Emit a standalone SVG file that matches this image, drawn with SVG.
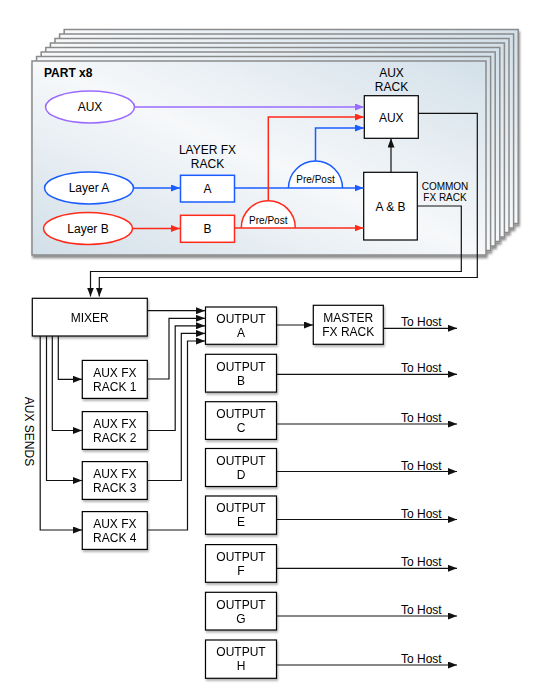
<svg xmlns="http://www.w3.org/2000/svg" width="537" height="695" viewBox="0 0 537 695">
<style>
text{font-family:"Liberation Sans",Arial,sans-serif;font-size:12px;fill:#000}
.c{text-anchor:middle}
.s10{font-size:10px}
.panel{fill:url(#pg);stroke:#8a8a8a;stroke-width:1.5}
.box{fill:#fff;stroke:#000;stroke-width:1.2}
.bbox{fill:#fff;stroke:#1a5cff;stroke-width:1.5}
.rbox{fill:#fff;stroke:#ff2a1a;stroke-width:1.5}
.ln{fill:none;stroke:#111;stroke-width:1.2}
.bl{fill:none;stroke:#1a5cff;stroke-width:1.5}
.rl{fill:none;stroke:#ff2a1a;stroke-width:1.5}
.pl{fill:none;stroke:#9a6bff;stroke-width:1.5}
</style>
<defs>
<linearGradient id="pg" x1="0" y1="1" x2="1" y2="0">
<stop offset="0" stop-color="#d2dfe8"/>
<stop offset="0.5" stop-color="#f6f8fa"/>
<stop offset="1" stop-color="#d3e0e9"/>
</linearGradient>
<filter id="psh" x="-5%" y="-5%" width="112%" height="115%">
<feDropShadow dx="1" dy="2.5" stdDeviation="1.2" flood-color="#000" flood-opacity="0.45"/>
</filter>
<filter id="bsh" x="-10%" y="-10%" width="130%" height="140%">
<feDropShadow dx="1" dy="2" stdDeviation="1.2" flood-color="#000" flood-opacity="0.3"/>
</filter>
<marker id="ak" viewBox="0 0 10 10" refX="10" refY="5" markerWidth="9" markerHeight="7" markerUnits="userSpaceOnUse" orient="auto" preserveAspectRatio="none"><path d="M0,0L10,5L0,10z" fill="#111"/></marker>
<marker id="ab" viewBox="0 0 10 10" refX="10" refY="5" markerWidth="9" markerHeight="7" markerUnits="userSpaceOnUse" orient="auto" preserveAspectRatio="none"><path d="M0,0L10,5L0,10z" fill="#1a5cff"/></marker>
<marker id="ar" viewBox="0 0 10 10" refX="10" refY="5" markerWidth="9" markerHeight="7" markerUnits="userSpaceOnUse" orient="auto" preserveAspectRatio="none"><path d="M0,0L10,5L0,10z" fill="#ff2a1a"/></marker>
<marker id="ap" viewBox="0 0 10 10" refX="10" refY="5" markerWidth="9" markerHeight="7" markerUnits="userSpaceOnUse" orient="auto" preserveAspectRatio="none"><path d="M0,0L10,5L0,10z" fill="#9a6bff"/></marker>
</defs>

<g id="part-stack" filter="url(#psh)">
<rect class="panel" x="64.2" y="29.5" width="454" height="194"/>
<rect class="panel" x="59.6" y="34" width="454" height="194"/>
<rect class="panel" x="55" y="38.5" width="454" height="194"/>
<rect class="panel" x="50.4" y="43" width="454" height="194"/>
<rect class="panel" x="45.8" y="47.5" width="454" height="194"/>
<rect class="panel" x="41.2" y="52" width="454" height="194"/>
<rect class="panel" x="36.6" y="56.5" width="454" height="194"/>
<rect class="panel" x="32" y="61" width="454" height="194"/>
</g>
<text x="44" y="77" style="font-weight:bold">PART x8</text>

<g id="aux-in">
<ellipse cx="90" cy="107" rx="44.5" ry="16" fill="#fff" stroke="#9a6bff" stroke-width="1.5"/>
<text class="c" x="90" y="111.3">AUX</text>
</g>
<g id="layer-a">
<ellipse cx="89" cy="188" rx="44.5" ry="16" fill="#fff" stroke="#1a5cff" stroke-width="1.5"/>
<text class="c" x="89" y="192.3">Layer A</text>
</g>
<g id="layer-b">
<ellipse cx="88" cy="228.5" rx="44.5" ry="16" fill="#fff" stroke="#ff2a1a" stroke-width="1.5"/>
<text class="c" x="88" y="232.8">Layer B</text>
</g>
<g id="layer-fx-rack">
<text class="c" x="207.5" y="154.3">LAYER FX</text>
<text class="c" x="207.5" y="167.8">RACK</text>
</g>
<g id="fx-a">
<rect class="bbox" x="180.5" y="175.3" width="54" height="26.7"/>
<text class="c" x="207.5" y="192.8">A</text>
</g>
<g id="fx-b">
<rect class="rbox" x="180.5" y="215.3" width="54" height="27"/>
<text class="c" x="207.5" y="233">B</text>
</g>
<g id="aux-rack">
<text class="c" x="391.5" y="76.8">AUX</text>
<text class="c" x="391.5" y="91">RACK</text>
<rect class="box" x="364.3" y="95.7" width="54" height="42.6"/>
<text class="c" x="391.3" y="121.6">AUX</text>
</g>
<g id="common-fx-rack">
<rect class="box" x="363.7" y="172.3" width="53.6" height="67.7"/>
<text class="c" x="390.5" y="211">A &amp; B</text>
<text class="c s10" x="445" y="189.5">COMMON</text>
<text class="c s10" x="445" y="201">FX RACK</text>
</g>
<g id="prepost-a">
<path d="M288.5,188A27,27 0 0 1 342.5,188" fill="#fff" stroke="#1a5cff" stroke-width="1.5"/>
<text class="c s10" x="315.5" y="183">Pre/Post</text>
</g>
<g id="prepost-b">
<path d="M241.3,227.7A27,27 0 0 1 295.3,227.7" fill="#fff" stroke="#ff2a1a" stroke-width="1.5"/>
<text class="c s10" x="268.3" y="223.6">Pre/Post</text>
</g>

<g id="mixer" filter="url(#bsh)">
<rect class="box" x="32.3" y="298.3" width="115" height="37.7"/>
<text class="c" x="89.8" y="321.8">MIXER</text>
</g>
<g id="aux-fx-rack-1" filter="url(#bsh)">
<rect class="box" x="82.3" y="360.4" width="65" height="38"/>
<text class="c" x="114.8" y="376.6">AUX FX</text>
<text class="c" x="114.8" y="391">RACK 1</text>
</g>
<g id="aux-fx-rack-2" filter="url(#bsh)">
<rect class="box" x="82.3" y="411.6" width="65" height="37.8"/>
<text class="c" x="114.8" y="427.8">AUX FX</text>
<text class="c" x="114.8" y="442.2">RACK 2</text>
</g>
<g id="aux-fx-rack-3" filter="url(#bsh)">
<rect class="box" x="82.3" y="461.6" width="65" height="37.8"/>
<text class="c" x="114.8" y="477.8">AUX FX</text>
<text class="c" x="114.8" y="492.2">RACK 3</text>
</g>
<g id="aux-fx-rack-4" filter="url(#bsh)">
<rect class="box" x="82.3" y="511.6" width="65" height="37.8"/>
<text class="c" x="114.8" y="527.8">AUX FX</text>
<text class="c" x="114.8" y="542.2">RACK 4</text>
</g>
<text x="0" y="0" class="c" transform="translate(24.5,431.5) rotate(90)">AUX SENDS</text>

<g id="output-a" filter="url(#bsh)">
<rect class="box" x="205.5" y="307" width="71" height="37.3"/>
<text class="c" x="241" y="322.8">OUTPUT</text>
<text class="c" x="241" y="336.8">A</text>
</g>
<g id="output-b" filter="url(#bsh)">
<rect class="box" x="205.5" y="354.3" width="71" height="37.8"/>
<text class="c" x="241" y="370.6">OUTPUT</text>
<text class="c" x="241" y="384.6">B</text>
</g>
<g id="output-c" filter="url(#bsh)">
<rect class="box" x="205.5" y="401.7" width="71" height="37.7"/>
<text class="c" x="241" y="418">OUTPUT</text>
<text class="c" x="241" y="432">C</text>
</g>
<g id="output-d" filter="url(#bsh)">
<rect class="box" x="205.5" y="448.5" width="71" height="38"/>
<text class="c" x="241" y="464.8">OUTPUT</text>
<text class="c" x="241" y="478.8">D</text>
</g>
<g id="output-e" filter="url(#bsh)">
<rect class="box" x="205.5" y="496" width="71" height="38.2"/>
<text class="c" x="241" y="512.3">OUTPUT</text>
<text class="c" x="241" y="526.3">E</text>
</g>
<g id="output-f" filter="url(#bsh)">
<rect class="box" x="205.5" y="544.6" width="71" height="37.7"/>
<text class="c" x="241" y="561">OUTPUT</text>
<text class="c" x="241" y="575">F</text>
</g>
<g id="output-g" filter="url(#bsh)">
<rect class="box" x="205.5" y="592.3" width="71" height="37.7"/>
<text class="c" x="241" y="608.6">OUTPUT</text>
<text class="c" x="241" y="622.6">G</text>
</g>
<g id="output-h" filter="url(#bsh)">
<rect class="box" x="205.5" y="640" width="71" height="38.3"/>
<text class="c" x="241" y="656.3">OUTPUT</text>
<text class="c" x="241" y="670.3">H</text>
</g>
<g id="master-fx-rack" filter="url(#bsh)">
<rect class="box" x="313.3" y="305.3" width="70" height="39"/>
<text class="c" x="348.3" y="322">MASTER</text>
<text class="c" x="348.3" y="336">FX RACK</text>
</g>

<g id="connectors">
<path class="pl" d="M134.5,107H364" marker-end="url(#ap)"/>
<path class="bl" d="M133.5,188H180" marker-end="url(#ab)"/>
<path class="rl" d="M132.5,228.5H180" marker-end="url(#ar)"/>
<path class="bl" d="M234.5,188H363.5" marker-end="url(#ab)"/>
<path class="rl" d="M234.5,228H363.5" marker-end="url(#ar)"/>
<path class="bl" d="M315.5,161V128H364" marker-end="url(#ab)"/>
<path class="rl" d="M268.3,200.7V117H364" marker-end="url(#ar)"/>
<path class="ln" d="M391,172.3V138.5" marker-end="url(#ak)" stroke="#333"/>
<path class="ln" d="M417.3,206H461.3V271.5H90.5V296.5" marker-end="url(#ak)"/>
<path class="ln" d="M418.3,113.3H477.3V277.5H99.3V296.5" marker-end="url(#ak)"/>
<path class="ln" d="M147.3,310.7H205" marker-end="url(#ak)"/>
<path class="ln" d="M147.3,379H169V318.3H205" marker-end="url(#ak)"/>
<path class="ln" d="M147.3,430.5H175.2V325.8H205" marker-end="url(#ak)"/>
<path class="ln" d="M147.3,480.5H181.3V333.4H205" marker-end="url(#ak)"/>
<path class="ln" d="M147.3,530H187.5V341H205" marker-end="url(#ak)"/>
<path class="ln" d="M58.3,336V379.3H82" marker-end="url(#ak)"/>
<path class="ln" d="M52.3,336V430.5H82" marker-end="url(#ak)"/>
<path class="ln" d="M46.5,336V480.5H82" marker-end="url(#ak)"/>
<path class="ln" d="M40.2,336V530H82" marker-end="url(#ak)"/>
<path class="ln" d="M276.5,325H313" marker-end="url(#ak)"/>
<path class="ln" d="M383.3,328.3H457" marker-end="url(#ak)"/>
<path class="ln" d="M276.5,374.3H457" marker-end="url(#ak)"/>
<path class="ln" d="M276.5,424H457" marker-end="url(#ak)"/>
<path class="ln" d="M276.5,471.5H457" marker-end="url(#ak)"/>
<path class="ln" d="M276.5,519.5H457" marker-end="url(#ak)"/>
<path class="ln" d="M276.5,568.3H457" marker-end="url(#ak)"/>
<path class="ln" d="M276.5,616H457" marker-end="url(#ak)"/>
<path class="ln" d="M276.5,665H457" marker-end="url(#ak)"/>
<text x="401" y="326.3">To Host</text>
<text x="401" y="372.3">To Host</text>
<text x="401" y="422">To Host</text>
<text x="401" y="469.5">To Host</text>
<text x="401" y="517.5">To Host</text>
<text x="401" y="566.3">To Host</text>
<text x="401" y="614">To Host</text>
<text x="401" y="663">To Host</text>
</g>
</svg>
